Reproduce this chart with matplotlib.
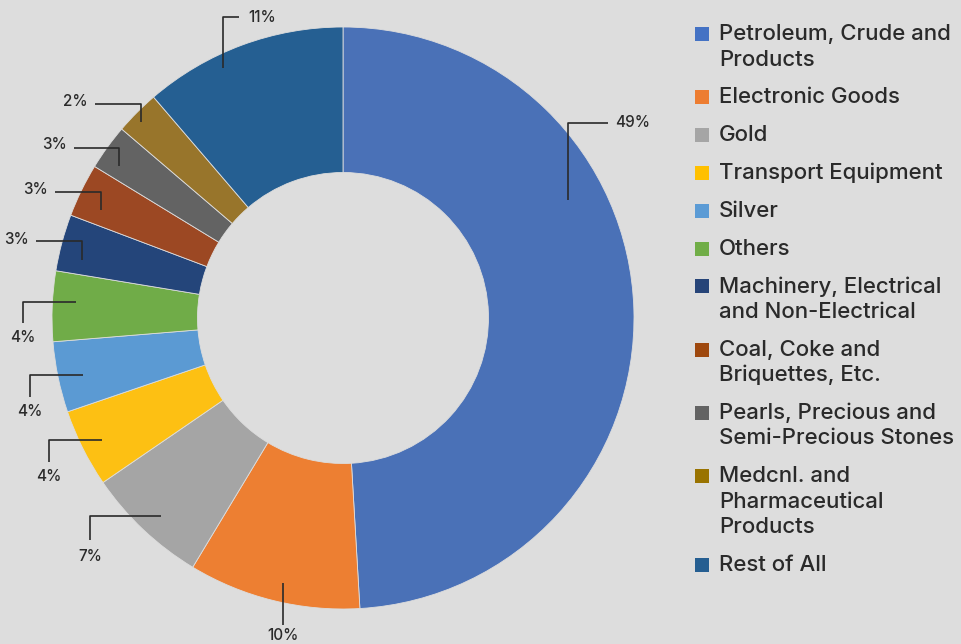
import numpy as np
import matplotlib
matplotlib.use("Agg")
import matplotlib.pyplot as plt
from matplotlib.patches import Rectangle

# ---------------- data ----------------
categories = [
    "Petroleum, Crude and\nProducts",
    "Electronic Goods",
    "Gold",
    "Transport Equipment",
    "Silver",
    "Others",
    "Machinery, Electrical\nand Non-Electrical",
    "Coal, Coke and\nBriquettes, Etc.",
    "Pearls, Precious and\nSemi-Precious Stones",
    "Medcnl. and\nPharmaceutical\nProducts",
    "Rest of All",
]
values = [49.07, 9.56, 6.80, 4.34, 3.92, 3.90, 3.15, 2.97, 2.53, 2.47, 11.28]
colors = ["#4A71B7", "#ED7F32", "#A5A5A5", "#FDC013", "#5B9AD3", "#70AC48",
          "#24457A", "#9C4823", "#636363", "#98752B", "#255F92"]
legend_colors = ["#4472C4", "#ED7D31", "#A5A5A5", "#FFC000", "#5B9BD5", "#70AD47",
                 "#264478", "#9E480E", "#636363", "#997300", "#255E91"]

# ---------------- layout ----------------
BG = "#DDDDDD"
TXT = "#2A2A2A"
W, H = 962, 644
cx, cy, R = 343, 318, 291          # donut centre / radius in pixels
HOLE = 0.5

FONT = ["Inter", "DejaVu Sans"]
plt.rcParams["font.family"] = FONT

fig = plt.figure(figsize=(W / 100, H / 100), dpi=100, facecolor=BG)
ax = fig.add_axes([(cx - R) / W, 1 - (cy + R) / H, 2 * R / W, 2 * R / H])
ax.set_facecolor(BG)

wedges, _ = ax.pie(values, colors=colors, startangle=90, counterclock=False,
                   radius=1, wedgeprops=dict(width=HOLE, edgecolor=BG, linewidth=0.6))
ax.set_xlim(-1, 1)
ax.set_ylim(-1, 1)
ax.set_aspect("equal")
ax.axis("off")

# leader layout per slice: anchor fraction along wedge, anchor radius,
# elbow segments in px (dy down positive), text offset from end, alignment
anchor_frac = [0.353, 0.465, 0.47, 0.483, 0.455, 0.58, 0.28, 0.31, 0.31, 0.40, 0.367]
anchor_rad = [0.873, 0.933, 0.924, 0.928, 0.916, 0.919, 0.918, 0.91, 0.93, 0.968, 0.952]
segments = [
    [(0, -77), (40, 0)],
    [(0, 42)],
    [(-71, 0), (0, 24)],
    [(-53, 0), (0, 22)],
    [(-53, 0), (0, 22)],
    [(-53, 0), (0, 21)],
    [(0, -19), (-46, 0)],
    [(0, -18), (-46, 0)],
    [(0, -18), (-45, 0)],
    [(0, -18), (-46, 0)],
    [(0, -51), (16, 0)],
]
text_off = [(7, -1), (0, 11), (0, 17), (0, 14), (0, 14), (0, 15),
            (-7, -2), (-7, -3), (-7, -3), (-7, -3), (9, 0)]
text_ha = ["left", "center", "center", "center", "center", "center",
           "right", "right", "right", "right", "left"]

for w, v, fr, rr, segs, toff, ha in zip(wedges, values, anchor_frac, anchor_rad,
                                          segments, text_off, text_ha):
    th1, th2 = w.theta1, w.theta2
    ang = np.deg2rad(th2 - fr * (th2 - th1))
    x, y = rr * np.cos(ang), rr * np.sin(ang)
    xs, ys = [x], [y]
    for dx, dy in segs:
        x += dx / R
        y -= dy / R
        xs.append(x)
        ys.append(y)
    ax.plot(xs, ys, color=TXT, lw=1.2, clip_on=False, solid_capstyle="butt")
    ax.text(x + toff[0] / R, y - toff[1] / R, f"{round(v)}%", ha=ha, va="center",
            fontsize=11, fontweight="medium", color=TXT, clip_on=False)

# ---------------- legend (manual) ----------------
def fx(px):
    return px / W

def fy(py):
    return 1 - py / H

leg_x_marker = 695
leg_x_text = 719
mk = 14
y = 34.0
entry_gap = 37.8
line_h = 25.5
for lab, col in zip(categories, legend_colors):
    lines = lab.split("\n")
    fig.patches.append(Rectangle((fx(leg_x_marker), fy(y + mk / 2)), mk / W, mk / H,
                                 transform=fig.transFigure, facecolor=col,
                                 edgecolor="none"))
    for i, ln in enumerate(lines):
        fig.text(fx(leg_x_text), fy(y + i * line_h), ln, ha="left", va="center",
                 fontsize=16.0, fontweight="medium", color=TXT)
    y += entry_gap + (len(lines) - 1) * line_h

fig.savefig("out.png", dpi=100, facecolor=BG)
